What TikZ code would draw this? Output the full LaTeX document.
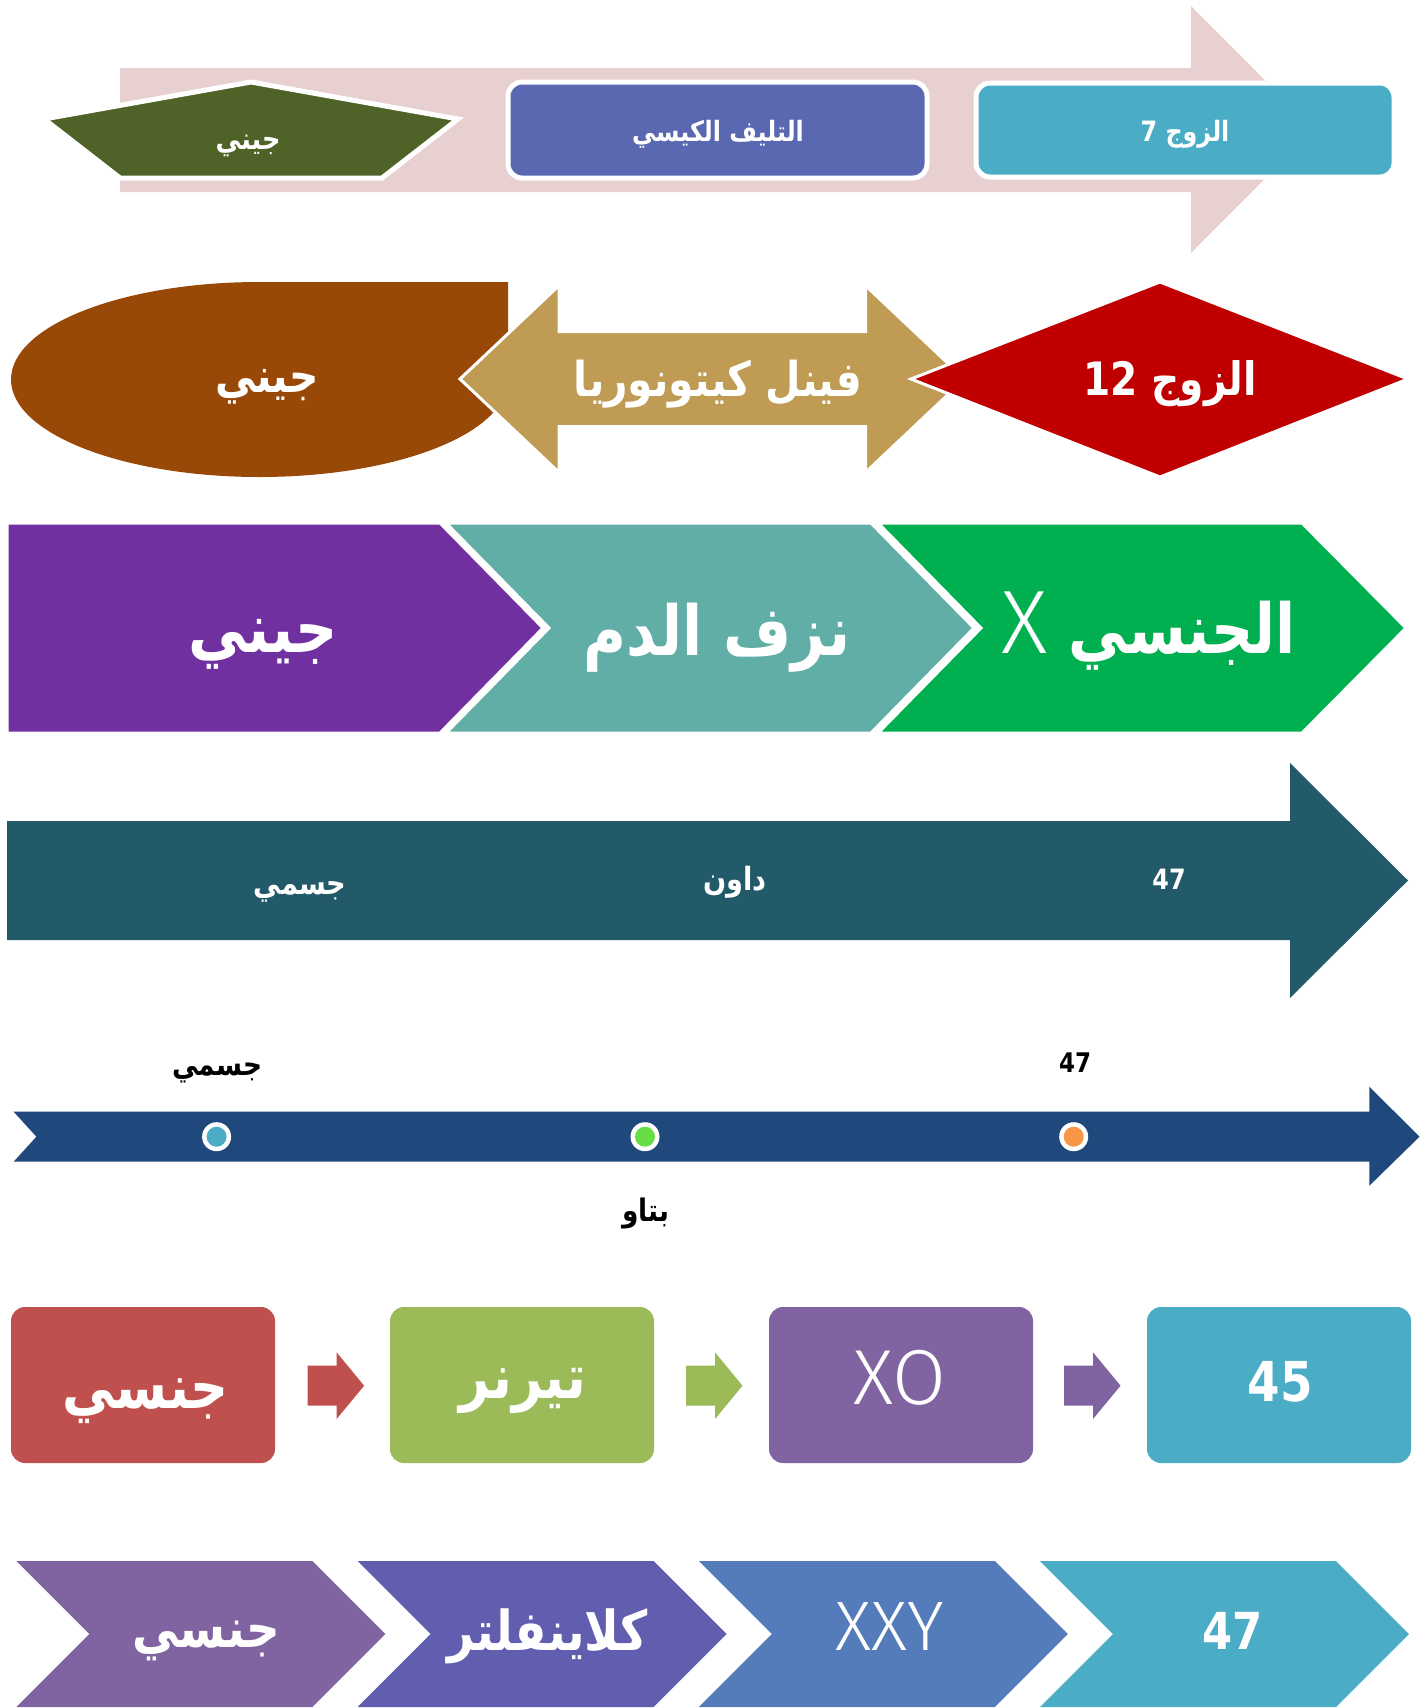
\documentclass[tikz,border=0pt]{standalone}
\usepackage{fontspec}
\TeXXeTstate=1
\newfontfamily\arabicfont[Script=Arabic,FakeStretch=0.85]{DejaVu Sans}
\newfontfamily\thinfont{Fira Sans Light}

% Arabic label: size, text
\newcommand\artext[2]{{\arabicfont\bfseries\fontsize{#1}{#1}\selectfont #2}}
% Latin light label: size, text
\newcommand\thintext[2]{{\thinfont\mdseries\fontsize{#1}{#1}\selectfont #2}}

\definecolor{bandpink}{HTML}{E8D0D1}
\definecolor{olivegreen}{HTML}{4F6228}
\definecolor{slateblue}{HTML}{5A68B2}
\definecolor{aqua}{HTML}{4BACC6}
\definecolor{rust}{HTML}{984807}
\definecolor{gold}{HTML}{BF9B53}
\definecolor{crimson}{HTML}{C00000}
\definecolor{violet}{HTML}{7030A0}
\definecolor{seafoam}{HTML}{60AEA6}
\definecolor{grass}{HTML}{00B050}
\definecolor{petrol}{HTML}{235A69}
\definecolor{navy}{HTML}{1F497D}
\definecolor{dotgreen}{HTML}{66DD44}
\definecolor{dotorange}{HTML}{F79646}
\definecolor{brick}{HTML}{C0504D}
\definecolor{leaf}{HTML}{9BBB59}
\definecolor{lilac}{HTML}{8064A2}
\definecolor{indigo}{HTML}{615EAF}
\definecolor{steel}{HTML}{547CBB}

\tikzset{
  lbl/.style={inner sep=0pt, text=white},
  dlbl/.style={inner sep=0pt, text=black},
  rim/.style={draw=white, line width=5pt, line join=miter},
  thinrim/.style={draw=white, line width=3pt, line join=miter},
}

\begin{document}
\begin{tikzpicture}[x=1pt,y=-1pt]
\useasboundingbox (0,0) rectangle (1427,1708);

% ---- band 1: broad arrow carrying three shapes
\fill[bandpink] (120,68) -- (1191,68) -- (1191,6) -- (1314,129.5) -- (1191,253) -- (1191,192) -- (120,192) -- cycle;
\draw[rim, fill=olivegreen] (44,119) -- (251,82) -- (458,119) -- (382,178) -- (120,178) -- cycle;
\draw[rim, fill=slateblue, rounded corners=14pt] (508,82) rectangle (927,178);
\draw[rim, fill=aqua, rounded corners=14pt] (976,83) rectangle (1394,177);
\node[lbl] (b1a) at (248,146) {\artext{30}{\beginR جيني\endR}};
\node[lbl] (b1b) at (718,134) {\artext{28}{\beginR التليف الكيسي\endR}};
\node[lbl] (b1c) at (1185,134) {\artext{28}{\beginR الزوج \beginL 7\endL\endR}};

% ---- band 2: teardrop, double arrow, diamond
\fill[rust] (508,282) -- (259.5,282) arc[start angle=-90, end angle=-360, x radius=248.5, y radius=97.5] -- cycle;
\draw[thinrim, fill=gold] (460,379) -- (559,285.5) -- (559,331.5) -- (865.5,331.5) -- (865.5,285.5) -- (964.5,379)
  -- (865.5,472.5) -- (865.5,426.5) -- (559,426.5) -- (559,472.5) -- cycle;
\draw[thinrim, fill=crimson] (911,379) -- (1160,282) -- (1408,379) -- (1160,477) -- cycle;
\node[lbl] (b2a) at (267,387) {\artext{48}{\beginR جيني\endR}};
\node[lbl] (b2b) at (718,384) {\artext{48}{\beginR فينل كيتونوريا\endR}};
\node[lbl] (b2c) at (1170,384) {\artext{46}{\beginR الزوج \beginL 12\endL\endR}};

% ---- band 3: process chevrons
\draw[thinrim, fill=violet] (7,523) -- (440,523) -- (543,628) -- (440,733) -- (7,733) -- cycle;
\draw[thinrim, fill=seafoam] (446,523) -- (871,523) -- (974,628) -- (871,733) -- (446,733) -- (549,628) -- cycle;
\draw[thinrim, fill=grass] (878,523) -- (1302,523) -- (1406,628) -- (1302,733) -- (878,733) -- (981,628) -- cycle;
\node[lbl] (b3a) at (263,644) {\artext{69}{\beginR جيني\endR}};
\node[lbl] (b3b) at (717,638) {\artext{69}{\beginR نزف الدم\endR}};
\node[lbl] (b3c) at (1149,631) {\artext{69}{\beginR الجنسي \beginL\thintext{90}{X}\endL\endR}};

% ---- band 4: large arrow
\fill[petrol] (7,821) -- (1290,821) -- (1290,763) -- (1408,880.5) -- (1290,998) -- (1290,940) -- (7,940) -- cycle;
\node[lbl] (b4a) at (300,892) {\artext{32}{\beginR جسمي\endR}};
\node[lbl] (b4b) at (735,882) {\artext{32}{\beginR داون\endR}};
\node[lbl] (b4c) at (1169,879.6) {\artext{28}{47}};

% ---- band 5: timeline
\fill[navy] (13.6,1111.7) -- (1369.4,1111.7) -- (1369.4,1086.7) -- (1419.5,1136.7) -- (1369.4,1185.7)
  -- (1369.4,1161.7) -- (13.6,1161.7) -- (36.4,1136.7) -- cycle;
\foreach \px/\col in {216.6/aqua, 645/dotgreen, 1073.7/dotorange}{
  \fill[white] (\px,1136.7) circle[radius=14.5];
  \fill[\col] (\px,1136.7) circle[radius=10];
}
\node[dlbl] (b5a) at (217.3,1072.5) {\artext{31}{\beginR جسمي\endR}};
\node[dlbl] (b5b) at (646,1213) {\artext{31}{\beginR بتاو\endR}};
\node[dlbl] (b5c) at (1075,1063) {\artext{27}{47}};

% ---- band 6: boxes joined by block arrows
\fill[brick, rounded corners=14pt] (11,1307) rectangle (275,1463);
\fill[leaf, rounded corners=14pt] (390,1307) rectangle (654,1463);
\fill[lilac, rounded corners=14pt] (769,1307) rectangle (1033,1463);
\fill[aqua, rounded corners=14pt] (1147,1307) rectangle (1411,1463);
\foreach \ax/\col in {307.6/brick, 686/leaf, 1064/lilac}{
  \fill[\col] (\ax,1365.7) -- (\ax+29,1365.7) -- (\ax+29,1352.3) -- (\ax+56.5,1385.7) -- (\ax+29,1419)
    -- (\ax+29,1405.7) -- (\ax,1405.7) -- cycle;
}
\node[lbl] (b6a) at (145.4,1401) {\artext{62}{\beginR جنسي\endR}};
\node[lbl] (b6b) at (522.9,1390.5) {\artext{62}{\beginR تيرنر\endR}};
\node[lbl] (b6c) at (899.8,1378) {\thintext{78}{XO}};
\node[lbl] (b6d) at (1280.5,1382.3) {\artext{55}{45}};

% ---- band 7: chevron row
\foreach \cx/\col in {16.4/lilac, 357.6/indigo, 698.8/steel, 1040/aqua}{
  \fill[\col] (\cx,1561) -- (\cx+296,1561) -- (\cx+369,1634) -- (\cx+296,1707) -- (\cx,1707) -- (\cx+73,1634) -- cycle;
}
\node[lbl] (b7a) at (206.4,1641) {\artext{55}{\beginR جنسي\endR}};
\node[lbl] (b7b) at (547.4,1636) {\artext{55}{\beginR كلاينفلتر\endR}};
\node[lbl] (b7c) at (889.4,1627) {\thintext{70}{XXY}};
\node[lbl] (b7d) at (1232.5,1631) {\artext{51}{47}};
\end{tikzpicture}
\end{document}
